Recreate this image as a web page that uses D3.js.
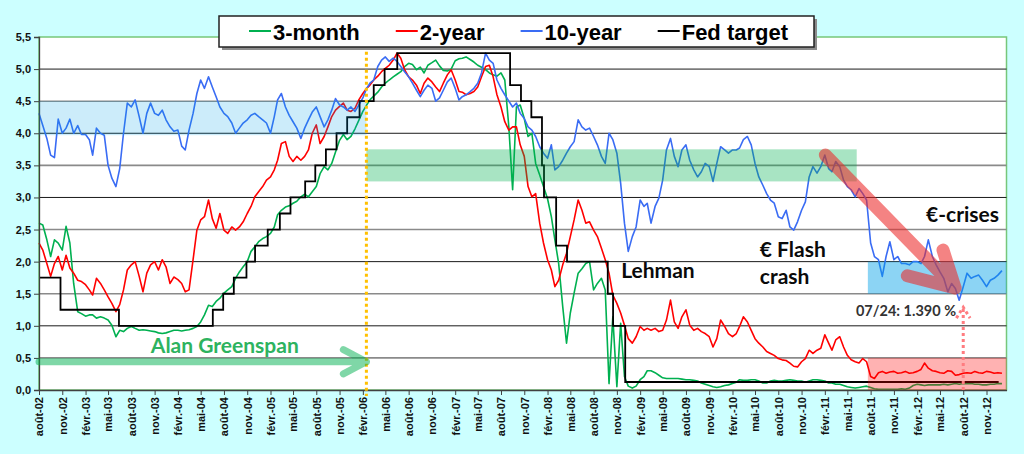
<!DOCTYPE html>
<html>
<head>
<meta charset="utf-8">
<script src="https://cdn.jsdelivr.net/npm/d3@7"></script>
<style>
  html, body { margin: 0; padding: 0; background: #ccffff; }
  svg { display: block; }
  .axis text { font-family: "Liberation Sans", Arial, sans-serif; font-weight: bold; font-size: 11px; fill: #111; }
  .note { font-family: Lato, "Open Sans", sans-serif; font-weight: bold; }
</style>
</head>
<body>
<div id="chart"></div>
<script>
// semi-monthly readings: point i sits at firstDate + floor(i/2) months (+15 days for odd i)
var firstDate = "2002-08-13";
var lastDate = "2013-01-31";

var seriesNames = ["3-month", "2-year", "10-year", "Fed target"];

var tickLabels = [
  "août-02", "nov.-02", "févr.-03", "mai-03", "août-03", "nov.-03", "févr.-04", "mai-04",
  "août-04", "nov.-04", "févr.-05", "mai-05", "août-05", "nov.-05", "févr.-06", "mai-06",
  "août-06", "nov.-06", "févr.-07", "mai-07", "août-07", "nov.-07", "févr.-08", "mai-08",
  "août-08", "nov.-08", "févr.-09", "mai-09", "août-09", "nov.-09", "févr.-10", "mai-10",
  "août-10", "nov.-10", "févr.-11", "mai-11", "août-11", "nov.-11", "févr.-12", "mai-12",
  "août-12", "nov.-12"
];

var threeMonth = [
  2.60, 2.57, 2.34, 2.08, 2.34, 2.29, 2.18, 2.55, 2.29, 1.66,
  1.22, 1.19, 1.15, 1.17, 1.17, 1.12, 1.14, 1.12, 1.09, 1.01, 0.83, 0.93,
  0.91, 0.96, 0.99, 0.96, 0.93, 0.94, 0.93, 0.92, 0.91, 0.89, 0.88, 0.89,
  0.91, 0.93, 0.93, 0.92, 0.93, 0.94, 0.96, 0.99, 1.06, 1.17, 1.32, 1.30,
  1.38, 1.43, 1.51, 1.56, 1.61, 1.74, 1.84, 1.92, 2.00, 2.16, 2.23, 2.31,
  2.36, 2.39, 2.44, 2.54, 2.73, 2.80, 2.85, 2.87, 2.91, 2.94, 3.01, 3.05,
  3.01, 3.09, 3.17, 3.37, 3.48, 3.43, 3.53, 3.71, 3.89, 3.98, 3.90, 3.95,
  4.07, 4.20, 4.34, 4.44, 4.52, 4.58, 4.64, 4.72, 4.78, 4.83, 4.88, 4.92,
  4.96, 5.04, 5.09, 5.07, 4.99, 5.03, 4.94, 5.06, 5.10, 5.14, 5.05, 4.98,
  4.97, 5.00, 5.13, 5.16, 5.17, 5.19, 5.15, 5.11, 5.06, 5.03, 4.99, 4.94,
  4.91, 4.89, 4.94, 4.83, 4.10, 3.12, 4.41, 4.44, 4.23, 3.95, 4.00, 3.53,
  3.35, 3.17, 2.98, 2.70, 2.34, 1.97, 1.30, 0.73, 1.20, 1.51, 1.82, 1.89,
  1.97, 2.00, 1.56, 1.66, 1.74, 1.56, 0.10, 1.14, 0.05, 1.04, 0.21, 0.06,
  0.03, 0.06, 0.16, 0.21, 0.30, 0.30, 0.27, 0.23, 0.19, 0.18, 0.18, 0.18,
  0.18, 0.17, 0.16, 0.16, 0.15, 0.14, 0.11, 0.09, 0.07, 0.05, 0.04, 0.05,
  0.07, 0.08, 0.10, 0.12, 0.16, 0.15, 0.15, 0.16, 0.16, 0.14, 0.11, 0.11,
  0.14, 0.15, 0.14, 0.14, 0.15, 0.16, 0.15, 0.14, 0.14, 0.12, 0.14, 0.16,
  0.16, 0.15, 0.14, 0.11, 0.11, 0.09, 0.09, 0.07, 0.05, 0.04, 0.03, 0.04,
  0.05, 0.06, 0.04, 0.02, 0.01, 0.01, 0.01, 0.01, 0.01, 0.01, 0.02, 0.01,
  0.03, 0.07, 0.09, 0.08, 0.07, 0.08, 0.08, 0.08, 0.08, 0.09, 0.08, 0.09,
  0.10, 0.09, 0.10, 0.10, 0.10, 0.09, 0.09, 0.08, 0.08, 0.09, 0.09, 0.10,
  0.10
];

var twoYear = [
  2.29, 2.18, 1.97, 1.77, 1.97, 2.08, 1.87, 2.10, 1.90, 1.82,
  1.71, 1.69, 1.64, 1.56, 1.48, 1.74, 1.66, 1.56, 1.45, 1.35, 1.22, 1.33,
  1.56, 1.87, 1.95, 2.00, 1.77, 1.53, 1.82, 1.95, 2.00, 1.87, 2.03, 1.92,
  1.66, 1.76, 1.72, 1.66, 1.53, 1.56, 2.03, 2.49, 2.65, 2.70, 2.96, 2.67,
  2.52, 2.75, 2.49, 2.44, 2.54, 2.49, 2.54, 2.62, 2.75, 2.86, 3.01, 3.09,
  3.17, 3.27, 3.32, 3.43, 3.58, 3.84, 3.87, 3.64, 3.56, 3.64, 3.58, 3.64,
  3.74, 4.00, 4.13, 3.84, 3.95, 4.10, 4.26, 4.36, 4.42, 4.47, 4.36, 4.34,
  4.39, 4.52, 4.62, 4.70, 4.75, 4.83, 4.89, 4.96, 5.01, 5.06, 5.14, 5.25,
  5.17, 4.99, 4.88, 4.83, 4.75, 4.62, 4.78, 4.86, 4.80, 4.72, 4.65, 4.78,
  4.91, 4.99, 4.83, 4.65, 4.64, 4.60, 4.62, 4.65, 4.72, 4.88, 5.04, 5.06,
  4.88, 4.60, 4.41, 4.18, 4.05, 4.10, 4.10, 3.82, 3.64, 3.17, 3.01, 3.06,
  2.60, 2.29, 2.03, 1.87, 1.61, 1.71, 1.95, 2.13, 2.39, 2.65, 2.96, 2.80,
  2.60, 2.62, 2.49, 2.39, 2.21, 2.03, 1.82, 1.48, 1.35, 1.20, 1.01, 0.80,
  0.73, 0.83, 0.99, 0.93, 0.96, 0.93, 0.96, 0.91, 0.93, 1.09, 1.40, 1.06,
  0.96, 1.14, 1.25, 1.01, 0.93, 0.96, 0.91, 0.88, 0.83, 0.67, 0.80, 1.09,
  0.99, 0.88, 0.83, 0.88, 0.99, 1.14, 1.06, 0.93, 0.80, 0.73, 0.67, 0.60,
  0.57, 0.54, 0.49, 0.47, 0.46, 0.42, 0.37, 0.36, 0.44, 0.49, 0.62, 0.57,
  0.62, 0.65, 0.86, 0.73, 0.62, 0.78, 0.83, 0.67, 0.54, 0.47, 0.44, 0.42,
  0.49, 0.44, 0.21, 0.18, 0.27, 0.29, 0.26, 0.28, 0.29, 0.26, 0.27, 0.29,
  0.26, 0.27, 0.29, 0.32, 0.42, 0.34, 0.30, 0.29, 0.27, 0.26, 0.30, 0.29,
  0.23, 0.24, 0.26, 0.27, 0.26, 0.29, 0.27, 0.26, 0.29, 0.28, 0.26, 0.27,
  0.26
];

var tenYear = [
  4.31, 4.12, 3.92, 3.66, 3.62, 4.22, 4.00, 4.08, 4.22, 4.00,
  4.12, 3.98, 3.98, 3.90, 3.66, 4.08, 4.00, 3.97, 3.50, 3.30, 3.17, 3.45,
  4.00, 4.47, 4.41, 4.52, 4.26, 4.00, 4.31, 4.47, 4.31, 4.28, 4.36, 4.21,
  4.10, 4.03, 4.05, 3.80, 3.74, 4.05, 4.31, 4.62, 4.83, 4.70, 4.88, 4.72,
  4.57, 4.41, 4.31, 4.26, 4.16, 4.00, 4.08, 4.16, 4.21, 4.28, 4.31, 4.26,
  4.21, 4.16, 4.00, 4.26, 4.52, 4.62, 4.41, 4.28, 4.18, 4.08, 3.92, 4.08,
  4.21, 4.33, 4.41, 4.26, 4.10, 4.21, 4.36, 4.54, 4.44, 4.41, 4.36, 4.41,
  4.34, 4.44, 4.55, 4.70, 4.78, 4.83, 5.04, 5.14, 5.19, 5.12, 5.17, 5.12,
  5.04, 4.96, 4.88, 4.78, 4.67, 4.57, 4.67, 4.75, 4.70, 4.50, 4.55, 4.67,
  4.80, 4.86, 4.70, 4.52, 4.57, 4.60, 4.65, 4.70, 4.78, 4.94, 5.25, 5.14,
  5.09, 4.83, 4.70, 4.60, 4.50, 4.41, 4.47, 4.31, 4.23, 4.10, 4.05, 3.95,
  3.79, 3.69, 3.61, 3.82, 3.43, 3.48, 3.58, 3.69, 3.79, 3.87, 4.21, 4.10,
  4.05, 4.08, 3.95, 3.82, 3.64, 3.53, 4.00, 3.90, 3.69, 3.22, 2.60, 2.16,
  2.39, 2.54, 2.96, 2.86, 2.91, 2.60, 2.86, 2.99, 3.27, 3.74, 3.92, 3.64,
  3.48, 3.74, 3.82, 3.58, 3.43, 3.32, 3.40, 3.53, 3.48, 3.25, 3.53, 3.79,
  3.74, 3.69, 3.74, 3.74, 3.77, 3.90, 3.95, 3.82, 3.53, 3.32, 3.19, 3.06,
  2.96, 2.91, 2.70, 2.67, 2.80, 2.54, 2.49, 2.62, 2.80, 2.93, 3.32, 3.48,
  3.38, 3.48, 3.66, 3.45, 3.40, 3.56, 3.48, 3.27, 3.17, 3.12, 3.01, 3.14,
  3.06, 2.96, 2.29, 2.08, 2.03, 1.77, 2.08, 2.31, 2.03, 2.08, 1.97, 1.97,
  1.95, 2.00, 2.00, 1.97, 2.08, 2.34, 2.08, 1.95, 1.84, 1.74, 1.53, 1.66,
  1.58, 1.40, 1.61, 1.82, 1.74, 1.77, 1.79, 1.71, 1.61, 1.71, 1.74, 1.79,
  1.86
];

var fedDates = [
  "2002-08-13", "2002-11-06", "2003-06-25", "2004-06-30", "2004-08-10", "2004-09-21",
  "2004-11-10", "2004-12-14", "2005-02-02", "2005-03-22", "2005-05-03", "2005-06-30",
  "2005-08-09", "2005-09-20", "2005-11-01", "2005-12-13", "2006-01-31", "2006-03-28",
  "2006-05-10", "2006-06-29", "2007-09-18", "2007-10-31", "2007-12-11", "2008-01-22",
  "2008-01-30", "2008-03-18", "2008-04-30", "2008-10-08", "2008-10-29", "2008-12-16",
  "2012-12-31"
];
var fedRates = [
  1.75, 1.25, 1.00, 1.25, 1.50, 1.75, 2.00, 2.25, 2.50, 2.75, 3.00, 3.25, 3.50, 3.75,
  4.00, 4.25, 4.50, 4.75, 5.00, 5.25, 4.75, 4.50, 4.25, 3.50, 3.00, 2.25, 2.00, 1.50,
  1.00, 0.125, 0.125
];

var colors = ["#00b050", "#ff0000", "#3a6cf4", "#000000"];

var svgWidth = 1024, svgHeight = 454;
var margin = { top: 37, right: 17.5, bottom: 64, left: 39 };

var parse = d3.timeParse("%Y-%m-%d");
var start = parse(firstDate);

function pointDate(i) {
  return d3.timeDay.offset(d3.timeMonth.offset(start, Math.floor(i / 2)), (i % 2) * 15);
}

var svg = d3.select("#chart").append("svg")
    .attr("width", svgWidth)
    .attr("height", svgHeight);

var x = d3.scaleTime()
    .domain([start, parse(lastDate)])
    .range([margin.left, svgWidth - margin.right]);
var y = d3.scaleLinear()
    .domain([0, 5.5])
    .range([svgHeight - margin.bottom, margin.top]);

var frLocale = d3.formatLocale({ decimal: ",", thousands: " ", grouping: [3], currency: ["", " €"] });
var fmt = frLocale.format(".1f");

// plot area
svg.append("rect")
    .attr("x", x.range()[0]).attr("y", y.range()[1])
    .attr("width", x.range()[1] - x.range()[0])
    .attr("height", y.range()[0] - y.range()[1])
    .attr("fill", "#fff")
    .attr("stroke", "#77c77a")
    .attr("stroke-width", 1.5);

// gridlines, whole numbers darker
var gridVals = d3.range(1, 11).map(function(k) { return k / 2; });
svg.append("g").selectAll("line")
    .data(gridVals)
  .enter().append("line")
    .attr("x1", x.range()[0]).attr("x2", x.range()[1])
    .attr("y1", function(d) { return y(d); })
    .attr("y2", function(d) { return y(d); })
    .attr("stroke", function(d) { return d % 1 === 0 ? "#1a1a1a" : "#8a8a8a"; })
    .attr("stroke-width", function(d) { return d % 1 === 0 ? 1 : 1.6; });

// series
var lineGen = d3.line()
    .x(function(d, i) { return x(pointDate(i)); })
    .y(function(d) { return y(d); });

[threeMonth, twoYear, tenYear].forEach(function(values, k) {
  svg.append("path")
      .datum(values)
      .attr("fill", "none")
      .attr("stroke", colors[k])
      .attr("stroke-width", 1.6)
      .attr("stroke-linejoin", "round")
      .attr("d", lineGen);
});

var fedLine = d3.line()
    .curve(d3.curveStepAfter)
    .x(function(d, i) { return x(parse(fedDates[i])); })
    .y(function(d) { return y(d); });

svg.append("path")
    .datum(fedRates)
    .attr("fill", "none")
    .attr("stroke", colors[3])
    .attr("stroke-width", 1.8)
    .attr("d", fedLine);

// axes
var yAxis = svg.append("g")
    .attr("class", "axis")
    .attr("transform", "translate(" + margin.left + ",0)")
    .call(d3.axisLeft(y).tickValues(d3.range(0, 12).map(function(k) { return k / 2; }))
      .tickFormat(fmt).tickSize(5).tickPadding(3));
yAxis.select(".domain").attr("stroke", "#404040").attr("stroke-width", 1.3);
yAxis.selectAll(".tick line").attr("stroke", "#404040");

var tickDates = tickLabels.map(function(d, i) { return d3.timeMonth.offset(start, 3 * i); });
var xAxis = svg.append("g")
    .attr("class", "axis")
    .attr("transform", "translate(0," + y(0) + ")")
    .call(d3.axisBottom(x).tickValues(tickDates)
      .tickFormat(function(d, i) { return tickLabels[i]; }).tickSize(5).tickSizeOuter(0));
xAxis.select(".domain").attr("stroke", "#404040").attr("stroke-width", 1.3);
xAxis.selectAll(".tick line").attr("stroke", "#404040");
xAxis.selectAll(".tick text")
    .attr("transform", "rotate(-90)")
    .attr("text-anchor", "end")
    .attr("x", -7)
    .attr("y", 0)
    .attr("dy", "0.35em");

// ---- annotations (positions in data units) ----
var greenspanEnd = parse("2006-02-27");
var bandStart = parse("2011-08-02");

function band(d0, d1, v0, v1, fill) {
  svg.append("rect")
      .attr("x", x(d0)).attr("y", y(v1))
      .attr("width", x(d1) - x(d0))
      .attr("height", y(v0) - y(v1))
      .attr("fill", fill);
}
band(start, greenspanEnd, 3.97, 4.5, "rgba(0,160,230,0.2)");
band(greenspanEnd, parse("2011-06-19"), 3.25, 3.75, "rgba(0,176,80,0.34)");
band(bandStart, parse(lastDate), 1.5, 2.0, "rgba(0,160,230,0.45)");
band(bandStart, parse(lastDate), 0, 0.5, "rgba(255,0,0,0.3)");

// Greenspan's term: dotted line and arrow
svg.append("line")
    .attr("x1", x(greenspanEnd)).attr("x2", x(greenspanEnd))
    .attr("y1", y(5.27)).attr("y2", y(0) + 6)
    .attr("stroke", "#ffc000")
    .attr("stroke-width", 3)
    .attr("stroke-dasharray", "3,3");

var pt = function(ds, v) { return [x(parse(ds)), y(v)]; };
var arrowLine = d3.line();

svg.append("path")
    .attr("d", arrowLine([[x(start), y(0.44)], [x(greenspanEnd), y(0.44)]]) +
               arrowLine([pt("2005-11-28", 0.63), [x(greenspanEnd), y(0.44)], pt("2005-11-28", 0.25)]))
    .attr("fill", "none")
    .attr("stroke", "#00b050")
    .attr("stroke-opacity", 0.5)
    .attr("stroke-width", 7)
    .attr("stroke-linecap", "round")
    .attr("stroke-linejoin", "round");

svg.append("text").attr("class", "note")
    .attr("x", x(parse("2003-10-29"))).attr("y", y(0.576))
    .attr("fill", "#2db35f").attr("font-size", 21)
    .text("Alan Greenspan");

// euro crisis arrow
svg.append("path")
    .attr("d", arrowLine([pt("2011-02-15", 3.66), pt("2012-07-12", 1.59)]) +
               arrowLine([pt("2012-05-25", 2.18), pt("2012-07-12", 1.59), pt("2012-01-05", 1.78)]))
    .attr("fill", "none")
    .attr("stroke", "#ec2a2a")
    .attr("stroke-opacity", 0.58)
    .attr("stroke-width", 13)
    .attr("stroke-linecap", "round")
    .attr("stroke-linejoin", "round");

// low point marker
svg.append("path")
    .attr("d", arrowLine([pt("2012-08-13", 0), pt("2012-08-13", 1.29)]) +
               arrowLine([pt("2012-07-17", 1.12), pt("2012-08-13", 1.29), pt("2012-09-09", 1.12)]))
    .attr("fill", "none")
    .attr("stroke", "#ff7c80")
    .attr("stroke-width", 3)
    .attr("stroke-dasharray", "3,3");

var notes = [
  { text: "Lehman", date: "2008-11-30", v: 1.745, size: 21 },
  { text: "€ Flash", date: "2010-06-01", v: 2.07, size: 21 },
  { text: "crash", date: "2010-06-01", v: 1.65, size: 21 },
  { text: "€-crises", date: "2012-03-19", v: 2.62, size: 21 },
  { text: "07/24: 1.390 %", date: "2011-06-16", v: 1.153, size: 14.5 }
];
svg.append("g").selectAll("text")
    .data(notes)
  .enter().append("text")
    .attr("class", "note")
    .attr("x", function(d) { return x(parse(d.date)); })
    .attr("y", function(d) { return y(d.v); })
    .attr("font-size", function(d) { return d.size; })
    .attr("fill", function(d) { return d.size < 15 ? "#333" : "#0a0a0a"; })
    .text(function(d) { return d.text; });

// legend
var legend = svg.append("g").attr("transform", "translate(219,16)");
legend.append("rect")
    .attr("x", 3).attr("y", 3).attr("width", 595).attr("height", 31)
    .attr("fill", "#8c8c8c");
legend.append("rect")
    .attr("width", 595).attr("height", 31)
    .attr("fill", "#fff").attr("stroke", "#222").attr("stroke-width", 1.5);

var lx = 30;
seriesNames.forEach(function(name, k) {
  legend.append("line")
      .attr("x1", lx).attr("x2", lx + 22)
      .attr("y1", 15).attr("y2", 15)
      .attr("stroke", colors[k]).attr("stroke-width", 2);
  var t = legend.append("text")
      .attr("x", lx + 24).attr("y", 23.5)
      .attr("font-family", "'Liberation Sans', Arial, sans-serif")
      .attr("font-weight", "bold")
      .attr("font-size", 22)
      .attr("fill", "#000")
      .text(name);
  lx += 24 + t.node().getComputedTextLength() + 36;
});
</script>
</body>
</html>
